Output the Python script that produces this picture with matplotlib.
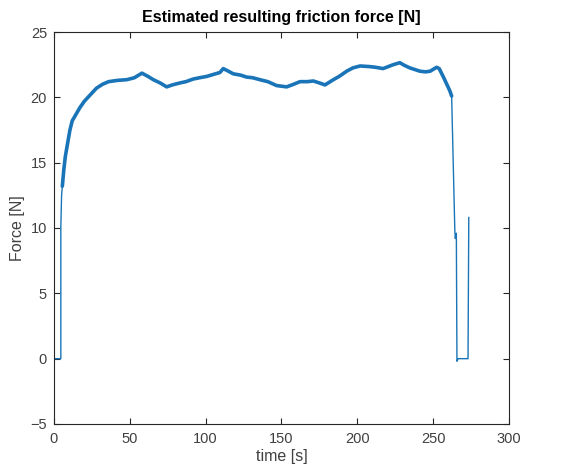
import numpy as np
import matplotlib
matplotlib.use("Agg")
import matplotlib.pyplot as plt

plt.rcParams['font.family'] = ['Liberation Sans', 'DejaVu Sans']

# ------------------------------------------------------------
# data (time [s], force [N])
# ------------------------------------------------------------
time_s = [0, 2, 4.5, 4.5, 5.0, 5.5, 6.5, 7.5, 9.0, 10.5, 12.0, 14.0, 17.0,
          20.0, 24.0, 28.0, 32.0, 36.0, 42.0, 48.0, 53.0, 58.0, 62.0, 65.5,
          70.0, 74.3, 78.0, 83.0, 87.0, 91.8, 96.0, 100.7, 105.0, 109.4,
          111.6, 115.0, 118.2, 123.0, 127.0, 131.0, 135.8, 141.0, 146.8,
          153.4, 158.0, 162.2, 167.0, 171.0, 175.0, 178.7, 184.2, 188.0,
          193.0, 197.0, 201.8, 208.3, 212.0, 217.0, 223.7, 228.0, 231.0,
          234.7, 241.3, 245.0, 248.0, 252.3, 254.0, 257.0, 259.0, 261.0,
          262.2, 264.3, 264.6, 265.3, 265.7, 266.5, 272.8, 273.0, 273.5]

force_n = [0, 0, 0, 10.0, 12.5, 13.2, 14.5, 15.5, 16.5, 17.5, 18.2, 18.6,
           19.2, 19.7, 20.2, 20.7, 21.0, 21.2, 21.3, 21.35, 21.5, 21.85,
           21.6, 21.35, 21.1, 20.8, 20.95, 21.1, 21.2, 21.4, 21.5, 21.6,
           21.75, 21.9, 22.2, 22.0, 21.8, 21.7, 21.55, 21.5, 21.35, 21.2,
           20.9, 20.8, 21.0, 21.2, 21.2, 21.25, 21.1, 20.95, 21.35, 21.6,
           22.0, 22.25, 22.4, 22.35, 22.3, 22.2, 22.5, 22.65, 22.45, 22.25,
           22.0, 21.95, 22.0, 22.3, 22.2, 21.5, 21.0, 20.5, 20.1, 9.8, 9.2,
           9.6, -0.2, 0, 0, 0, 10.8]

time_s = np.array(time_s)
force_n = np.array(force_n)

line_color = '#1a74b8'
axis_color = '#262626'
label_color = '#404040'

fig = plt.figure(figsize=(5.69, 4.72), dpi=100)
ax = fig.add_axes([0.0949, 0.1017, 0.7996, 0.8305])

# whole signal, thin
ax.plot(time_s, force_n, color=line_color, lw=1.0)

# noisy plateau looks thicker
plateau = (time_s >= 5.5) & (time_s <= 262.2)
ax.plot(time_s[plateau], force_n[plateau], color=line_color, lw=2.6,
        solid_capstyle='round', solid_joinstyle='round')

ax.set_xlim(0, 300)
ax.set_ylim(-5, 25)
ax.set_xticks(np.arange(0, 301, 50))
ax.set_yticks(np.arange(-5, 26, 5))

ax.tick_params(direction='in', length=4, width=0.8, top=True, right=True,
               colors=axis_color, labelcolor=label_color, labelsize=10.5)
ax.tick_params(axis='x', pad=6)
ax.tick_params(axis='y', pad=5)
for side in ax.spines.values():
    side.set_color(axis_color)
    side.set_linewidth(0.8)

ax.set_xlabel("time [s]", fontsize=11.5, color=label_color, labelpad=2)
ax.set_ylabel("Force [N]", fontsize=11.5, color=label_color, labelpad=4)
ax.set_title("Estimated resulting friction force [N]", fontsize=11.5,
             fontweight='bold', color='black', pad=7)

fig.savefig("out.png", dpi=100)
